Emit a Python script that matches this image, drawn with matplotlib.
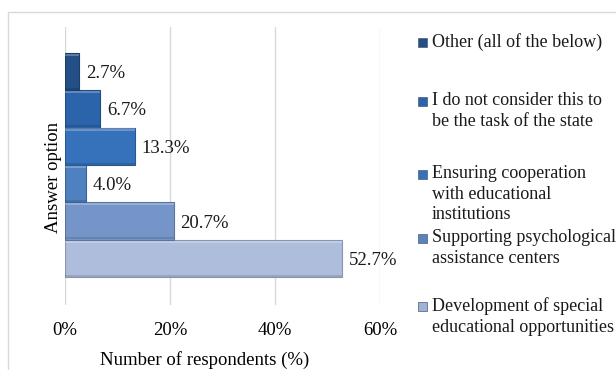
import numpy as np
import matplotlib.pyplot as plt
from matplotlib.patches import Rectangle

# data (bottom bar first)
values = [52.7, 20.7, 4.0, 13.3, 6.7, 2.7]
bar_colors = ['#aebddb', '#7594c8', '#4f80c0', '#3672bb', '#2b64aa', '#234f86']
edge_colors = ['#8795b0', '#5a74a0', '#3b6298', '#2a5890', '#214d84', '#1b3d68']

legend_labels = [
    'Other (all of the below)',
    'I do not consider this to\nbe the task of the state',
    'Ensuring cooperation\nwith educational\ninstitutions',
    'Supporting psychological\nassistance centers',
    'Development of special\neducational opportunities',
]
legend_colors = ['#234f86', '#2b64aa', '#3672bb', '#5c82bd', '#9fb1d4']
legend_y = [42, 101, 174, 238, 306]  # pixel rows of first text line

W, H = 616, 370
plt.rcParams['font.family'] = ['Liberation Serif', 'DejaVu Serif']
fig = plt.figure(figsize=(W / 100, H / 100), dpi=100)
fig.patch.set_facecolor('white')

# outer chart border (cut off at right/bottom as in the original)
fig.patches.append(Rectangle((8 / W, -0.1), 1.2, 1 - 12 / H + 0.1,
                             transform=fig.transFigure, fill=False,
                             edgecolor='#d9d9d9', linewidth=1.0))

ax = fig.add_axes([65 / W, 1 - 305 / H, 315 / W, 278 / H])
y = np.arange(len(values))

ax.barh(y, values, height=1.0, color=bar_colors, edgecolor=edge_colors,
        linewidth=0.8, zorder=3)
# bevel: light strip on top, shade at bottom
ax.barh(y + 0.45, values, height=0.06, color='white', alpha=0.25,
        linewidth=0, zorder=4)
ax.barh(y - 0.46, values, height=0.05, color='black', alpha=0.12,
        linewidth=0, zorder=4)

for yi, v in zip(y, values):
    ax.text(v + 1.3, yi - 0.05, f'{v:.1f}%', va='center', ha='left',
            fontsize=13.5, color='#1a1a1a')

ax.set_xlim(0, 60)
ax.set_ylim(-1.24, len(values) - 1 + 1.19)
ax.set_xticks([0, 20, 40, 60])
ax.set_xticklabels(['0%', '20%', '40%', '60%'], fontsize=13.5)
ax.set_yticks([])
ax.tick_params(axis='x', length=0, pad=12)
ax.grid(axis='x', color='#d9d9d9', linewidth=1.0, zorder=0)
for s in ax.spines.values():
    s.set_visible(False)

ax.set_xlabel('Number of respondents (%)', fontsize=13.5, va='center')
ax.xaxis.set_label_coords((205 - 65) / 315, -(360 - 305) / 278)
ax.set_ylabel('Answer option', fontsize=13.5, va='center')
ax.yaxis.set_label_coords(-(65 - 53) / 315, (305 - 177) / 278)

# legend drawn by hand to keep Excel-like uneven spacing
for lab, col, ly in zip(legend_labels, legend_colors, legend_y):
    fig.patches.append(Rectangle((418 / W, 1 - (ly + 4.5) / H), 9 / W, 9 / H,
                                 transform=fig.transFigure,
                                 facecolor=col, edgecolor='#4a5a78',
                                 linewidth=0.5))
    fig.text(432 / W, 1 - (ly - 9) / H, lab, fontsize=13, va='top',
             ha='left', linespacing=1.28, color='#1a1a1a')

fig.savefig('out.png', dpi=100)
